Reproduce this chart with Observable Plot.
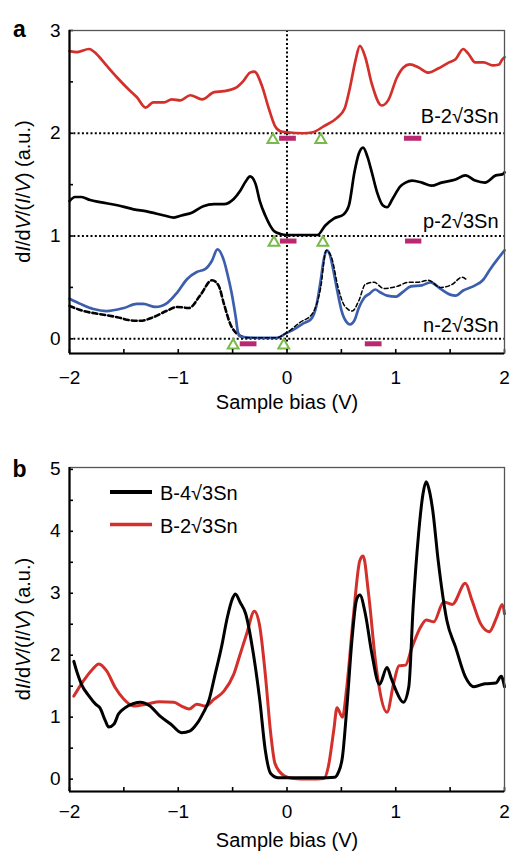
<!DOCTYPE html>
<html><head><meta charset="utf-8">
<script src="https://cdn.jsdelivr.net/npm/d3@7"></script>
<script src="https://cdn.jsdelivr.net/npm/@observablehq/plot@0.6"></script>
<style>
html,body{margin:0;padding:0;background:#fff;}
#chart{position:relative;width:510px;height:858px;overflow:hidden;}
#chart svg{display:block;}
</style></head><body><div id="chart"></div>
<script>
// ---------- shared axes ----------
const xDomain = [-2, 2];
const xMajor = [-2, -1, 0, 1, 2];
const xMinor = [-1.5, -0.5, 0.5, 1.5];
const xLabelText = "Sample bias (V)";

// ---------- panel a ----------
const aYDomain = [-0.143, 3];
const aYMajor = [0, 1, 2, 3];
const aYMinor = [0.5, 1.5, 2.5];
const aBaselines = [0, 1, 2];

const aRedX = [-2,-1.93,-1.82,-1.75,-1.66,-1.56,-1.46,-1.38,-1.30,-1.23,-1.13,-1.06,-0.98,-0.89,-0.78,-0.67,-0.58,-0.46,-0.40,-0.34,-0.30,-0.23,-0.17,-0.11,-0.06,0,0.15,0.24,0.34,0.46,0.53,0.58,0.63,0.67,0.72,0.78,0.87,0.93,1.01,1.07,1.13,1.21,1.30,1.39,1.49,1.55,1.62,1.67,1.73,1.81,1.89,1.95,1.98,2.0];
const aRedY = [2.80,2.79,2.82,2.77,2.66,2.54,2.43,2.35,2.25,2.30,2.30,2.33,2.32,2.37,2.33,2.40,2.41,2.45,2.51,2.59,2.60,2.46,2.25,2.07,2.02,2.01,2.00,2.01,2.07,2.15,2.24,2.45,2.71,2.85,2.74,2.48,2.27,2.32,2.54,2.64,2.67,2.64,2.59,2.63,2.69,2.72,2.82,2.77,2.69,2.69,2.66,2.67,2.72,2.74];

const aBlkX = [-2,-1.95,-1.89,-1.81,-1.72,-1.56,-1.41,-1.29,-1.13,-1.04,-0.97,-0.87,-0.77,-0.67,-0.58,-0.49,-0.43,-0.38,-0.34,-0.29,-0.25,-0.20,-0.12,-0.06,0,0.28,0.35,0.43,0.52,0.57,0.62,0.66,0.70,0.74,0.78,0.83,0.88,0.92,0.97,1.04,1.09,1.15,1.24,1.33,1.42,1.55,1.64,1.73,1.82,1.92,1.98,2.0];
const aBlkY = [1.34,1.38,1.38,1.35,1.33,1.30,1.26,1.24,1.20,1.18,1.20,1.23,1.29,1.31,1.31,1.36,1.44,1.53,1.58,1.51,1.34,1.20,1.05,1.02,1.01,1.01,1.10,1.17,1.21,1.30,1.62,1.80,1.86,1.77,1.62,1.42,1.30,1.28,1.36,1.48,1.52,1.54,1.52,1.49,1.52,1.55,1.59,1.54,1.52,1.59,1.60,1.62];

const aBluX = [-2,-1.90,-1.78,-1.66,-1.50,-1.38,-1.32,-1.21,-1.10,-1.01,-0.92,-0.83,-0.75,-0.69,-0.64,-0.58,-0.55,-0.51,-0.47,-0.45,-0.42,-0.28,-0.09,-0.015,0.06,0.15,0.22,0.27,0.31,0.34,0.365,0.39,0.42,0.46,0.50,0.55,0.58,0.62,0.66,0.71,0.76,0.81,0.86,0.92,1.00,1.07,1.14,1.24,1.32,1.42,1.50,1.55,1.62,1.73,1.80,1.87,1.94,2.0];
const aBluY = [0.39,0.34,0.29,0.27,0.30,0.34,0.34,0.31,0.35,0.45,0.58,0.65,0.68,0.76,0.87,0.76,0.64,0.45,0.20,0.06,0.02,0.01,0.01,0.05,0.09,0.15,0.19,0.32,0.57,0.78,0.86,0.83,0.70,0.48,0.28,0.16,0.14,0.18,0.30,0.40,0.44,0.48,0.45,0.42,0.41,0.46,0.51,0.52,0.55,0.48,0.43,0.42,0.47,0.52,0.57,0.68,0.78,0.86];

const aDashLX = [-2,-1.87,-1.72,-1.56,-1.44,-1.35,-1.23,-1.11,-1.01,-0.90,-0.80,-0.69,-0.63,-0.58,-0.52,-0.46,-0.38];
const aDashLY = [0.32,0.27,0.24,0.21,0.18,0.175,0.21,0.27,0.31,0.30,0.42,0.57,0.52,0.34,0.14,0.05,0.01];
const aDashRX = [-0.38,-0.1,-0.015,0.12,0.23,0.31,0.36,0.41,0.47,0.53,0.60,0.66,0.72,0.80,0.89,1.01,1.12,1.20,1.30,1.41,1.52,1.61,1.66];
const aDashRY = [0.01,0.01,0.05,0.16,0.24,0.50,0.86,0.79,0.50,0.32,0.27,0.37,0.53,0.55,0.49,0.51,0.55,0.55,0.57,0.50,0.53,0.60,0.565];

const aLabelNames = ["B-2√3Sn", "p-2√3Sn", "n-2√3Sn"];
const aLabelY = [2.16, 1.145, 0.125];

const triX = [-0.13, 0.31, -0.12, 0.33, -0.495, -0.03];
const triRow = [2, 2, 1, 1, 0, 0];
const barX1 = [-0.068, 1.08, -0.061, 1.09, -0.43, 0.72];
const barX2 = [0.086, 1.24, 0.092, 1.24, -0.276, 0.874];
const barRow = [2, 2, 1, 1, 0, 0];

// ---------- panel b ----------
const bYDomain = [-0.2, 5.03];
const bYMajor = [0, 1, 2, 3, 4, 5];
const bYMinor = [0.5, 1.5, 2.5, 3.5, 4.5];

const bBlkX = [-1.96,-1.93,-1.89,-1.82,-1.76,-1.72,-1.67,-1.64,-1.59,-1.55,-1.49,-1.41,-1.35,-1.26,-1.17,-1.07,-0.97,-0.89,-0.83,-0.77,-0.72,-0.66,-0.60,-0.55,-0.50,-0.475,-0.43,-0.38,-0.31,-0.25,-0.20,-0.15,-0.08,0.1,0.3,0.44,0.47,0.51,0.55,0.60,0.64,0.67,0.72,0.78,0.85,0.92,0.96,1.00,1.07,1.12,1.16,1.21,1.25,1.28,1.31,1.34,1.39,1.47,1.55,1.64,1.72,1.82,1.92,1.97,2.0];
const bBlkY = [1.90,1.72,1.53,1.34,1.21,1.15,0.94,0.84,0.89,1.05,1.15,1.22,1.24,1.18,1.02,0.89,0.75,0.78,0.89,1.07,1.26,1.70,2.15,2.60,2.92,2.99,2.85,2.67,2.03,1.27,0.47,0.09,0.02,0.02,0.02,0.03,0.10,0.36,1.15,2.30,2.90,2.97,2.67,2.03,1.53,1.80,1.62,1.44,1.24,1.49,2.78,3.96,4.60,4.80,4.65,4.34,3.53,2.56,2.13,1.65,1.49,1.54,1.55,1.66,1.49];

const bRedX = [-1.96,-1.87,-1.79,-1.73,-1.66,-1.58,-1.50,-1.41,-1.29,-1.17,-1.04,-0.97,-0.90,-0.83,-0.75,-0.67,-0.58,-0.49,-0.43,-0.37,-0.30,-0.25,-0.20,-0.15,-0.11,-0.03,0.06,0.2,0.34,0.38,0.43,0.46,0.51,0.55,0.61,0.67,0.70,0.75,0.82,0.92,0.98,1.03,1.09,1.15,1.23,1.28,1.35,1.44,1.52,1.64,1.70,1.78,1.86,1.93,1.98,2.0];
const bRedY = [1.34,1.59,1.77,1.86,1.75,1.48,1.29,1.18,1.21,1.25,1.24,1.18,1.13,1.21,1.18,1.29,1.42,1.69,2.02,2.35,2.71,2.46,1.70,0.74,0.25,0.06,0.01,0.0,0.01,0.20,0.79,1.15,1.00,1.49,2.62,3.53,3.60,2.99,1.81,1.08,1.54,1.83,1.84,2.13,2.46,2.57,2.54,2.86,2.82,3.16,2.89,2.51,2.38,2.62,2.82,2.67];

const legendNames = ["B-4√3Sn", "B-2√3Sn"];

// ---------- styling ----------
const font = "'Liberation Sans', Arial, Helvetica, sans-serif";
const RED = "#d3302b", BLUE = "#3c5fad", GREEN = "#78b94a", MAGENTA = "#b8296f";
const fmt = d3.format("d");
const rows = (xs, ys) => xs.map((x, i) => ({x, y: ys[i]}));

function panel({height, marginTop, marginBottom, yDomain, yMajor, yMinor, xPad, letter, letterDy, marks}) {
  const frameH = height - marginTop - marginBottom;
  const frameW = 510 - 69 - 6;
  return Plot.plot({
    width: 510, height, marginLeft: 69, marginRight: 6, marginTop, marginBottom,
    style: {fontFamily: font, fontSize: "19px", color: "black", background: "white", overflow: "visible"},
    x: {domain: xDomain},
    y: {domain: yDomain},
    marks: [
      ...marks,
      Plot.tickX([...xMajor, ...xMinor], {x: d => d, insetTop: frameH - 4, stroke: "black", strokeWidth: 1.6}),
      Plot.tickY([...yMajor, ...yMinor], {y: d => d, insetRight: frameW - 4, stroke: "black", strokeWidth: 1.6}),
      Plot.frame({stroke: "#555", strokeWidth: 1.3}),
      Plot.ruleX([xDomain[0]], {stroke: "black", strokeWidth: 2.2}),
      Plot.ruleY([yDomain[0]], {stroke: "black", strokeWidth: 2.2}),
      Plot.axisX({ticks: xMajor, tickSize: 0, tickPadding: xPad, tickFormat: fmt, label: null, fontSize: 19}),
      Plot.axisY({ticks: yMajor, tickSize: 0, tickPadding: 9, tickFormat: fmt, label: null, fontSize: 19}),
      Plot.text([xLabelText], {text: d => d, frameAnchor: "bottom", dy: 55, fontSize: 20}),
      Plot.text([letter], {text: d => d, frameAnchor: "top-left", dx: -50, dy: letterDy, fontSize: 23, fontWeight: "bold", textAnchor: "middle"})
    ]
  });
}

function yLabel(svg, cx, cy) {
  const t = d3.select(svg).append("text")
    .attr("transform", `translate(${cx},${cy}) rotate(-90)`)
    .attr("text-anchor", "middle").attr("dy", "0.35em")
    .attr("fill", "black").style("font-size", "20px").style("font-family", font);
  [["d", 0], ["I", 1], ["/d", 0], ["V", 1], ["/(", 0], ["I", 1], ["/", 0], ["V", 1], [") (a.u.)", 0]]
    .forEach(([s, it]) => t.append("tspan").attr("font-style", it ? "italic" : null).text(s));
}

const dotted = {stroke: "black", strokeWidth: 2, strokeDasharray: "2,2.3"};

const svgA = panel({
  height: 430, marginTop: 30, marginBottom: 77,
  yDomain: aYDomain, yMajor: aYMajor, yMinor: aYMinor, xPad: 17, letter: "a", letterDy: -10,
  marks: [
    Plot.ruleY(aBaselines, dotted),
    Plot.ruleX([0], dotted),
    Plot.line(rows(aRedX, aRedY), {x: "x", y: "y", stroke: RED, strokeWidth: 2.7, curve: "monotone-x"}),
    Plot.line(rows(aBlkX, aBlkY), {x: "x", y: "y", stroke: "black", strokeWidth: 2.7, curve: "monotone-x"}),
    Plot.line(rows(aDashLX, aDashLY), {x: "x", y: "y", stroke: "black", strokeWidth: 2.6, strokeDasharray: "5,3", curve: "monotone-x"}),
    Plot.line(rows(aBluX, aBluY), {x: "x", y: "y", stroke: BLUE, strokeWidth: 2.7, curve: "monotone-x"}),
    Plot.line(rows(aDashRX, aDashRY), {x: "x", y: "y", stroke: "black", strokeWidth: 1.5, strokeDasharray: "4,2.5", curve: "monotone-x"}),
    Plot.ruleY(barRow.map((r, i) => ({r, x1: barX1[i], x2: barX2[i]})), {y: "r", x1: "x1", x2: "x2", dy: 5, stroke: MAGENTA, strokeWidth: 5}),
    Plot.dot(triRow.map((r, i) => ({r, x: triX[i]})), {x: "x", y: "r", dy: 6.5, symbol: "triangle", r: 4, stroke: GREEN, strokeWidth: 2, fill: "white"}),
    Plot.text(aLabelNames.map((n, i) => ({n, y: aLabelY[i]})), {y: "y", text: "n", frameAnchor: "right", dx: -6, textAnchor: "end", fontSize: 20})
  ]
});

const svgB = panel({
  height: 428, marginTop: 37, marginBottom: 67,
  yDomain: bYDomain, yMajor: bYMajor, yMinor: bYMinor, xPad: 13, letter: "b", letterDy: -7,
  marks: [
    Plot.line(rows(bRedX, bRedY), {x: "x", y: "y", stroke: RED, strokeWidth: 3, curve: "monotone-x"}),
    Plot.line(rows(bBlkX, bBlkY), {x: "x", y: "y", stroke: "black", strokeWidth: 3, curve: "monotone-x"})
  ]
});

yLabel(svgA, 23, 191.5);
yLabel(svgB, 23, 199);

// legend for panel b
const lg = d3.select(svgB).append("g").style("font-family", font).style("font-size", "20px");
const legendColors = ["black", RED];
legendNames.forEach((name, i) => {
  const y = 62 + i * 32.5;
  lg.append("line").attr("x1", 110).attr("x2", 152).attr("y1", y).attr("y2", y)
    .attr("stroke", legendColors[i]).attr("stroke-width", i === 0 ? 4 : 3.5);
  lg.append("text").attr("x", 160).attr("y", y).attr("dy", "0.4em")
    .attr("text-anchor", "start").attr("fill", "black").text(name);
});

const chart = document.getElementById("chart");
chart.appendChild(svgA);
chart.appendChild(svgB);
</script></body></html>
